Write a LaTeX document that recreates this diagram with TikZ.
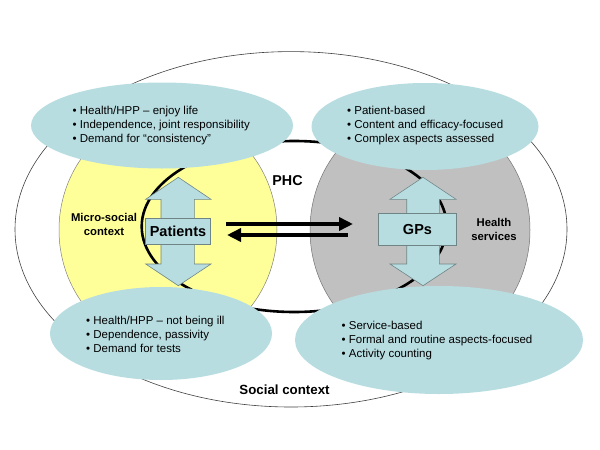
\documentclass[tikz,border=0pt]{standalone}
\usepackage{fontspec}
\setmainfont{Liberation Sans}
\usetikzlibrary{arrows.meta}
\definecolor{tealfill}{HTML}{B8DDE1}
\definecolor{yellowfill}{HTML}{FFFF99}
\definecolor{grayfill}{HTML}{C0C0C0}
\definecolor{arrowedge}{HTML}{6F8585}
\begin{document}
\begin{tikzpicture}[x=1pt,y=-1pt,
  bullets/.style={align=left, font=\fontsize{11.5}{14}\selectfont, inner sep=0pt, anchor=west},
  lbl/.style={font=\bfseries\fontsize{11.3}{13.5}\selectfont, align=center, inner sep=0pt},
  biglbl/.style={font=\bfseries\fontsize{14.5}{16}\selectfont, inner sep=0pt},
  flow/.style={line width=4pt, -{Triangle[length=14pt,width=13pt]}},
  dblarrow/.style={fill=tealfill, draw=arrowedge, line width=0.6pt},
  bubble/.style={fill=tealfill},
  boxstyle/.style={fill=tealfill, draw=arrowedge, line width=0.6pt}
]
\useasboundingbox (0,0) rectangle (600,450);
\fill[white] (0,0) rectangle (600,450);
% outer social context ellipse
\draw[line width=0.6pt, draw=black!75] (291,229.3) ellipse [x radius=276pt, y radius=177.7pt];
% micro-social (yellow) and health services (gray)
\draw[fill=yellowfill, draw=gray, line width=0.5pt] (168,230) ellipse [x radius=109pt, y radius=118pt];
\draw[fill=grayfill, draw=black!55, line width=0.5pt] (420,230) ellipse [x radius=110pt, y radius=120pt];
% PHC ellipse
\draw[line width=2.6pt] (294.2,226.5) ellipse [x radius=152.5pt, y radius=85.5pt];
% double arrows
\draw[dblarrow] (178.3,177.3) -- (211,199.3) -- (194.3,199.3) -- (194.3,264) -- (211,264)
  -- (178.3,285.7) -- (145.7,264) -- (161,264) -- (161,199.3) -- (145.7,199.3) -- cycle;
\draw[dblarrow] (423,177.3) -- (456,199.3) -- (439.3,199.3) -- (439.3,264) -- (456,264)
  -- (423,285.7) -- (390,264) -- (406.7,264) -- (406.7,199.3) -- (390,199.3) -- cycle;
% boxes
\node[boxstyle, minimum width=64.6pt, minimum height=26pt, inner sep=0pt] (patients) at (178,231.3) {};
\node[biglbl] at (patients.center) {Patients};
\node[boxstyle, minimum width=78.4pt, minimum height=31.7pt, inner sep=0pt] (gps) at (417.5,229.2) {};
\node[biglbl] at (gps.center) {GPs};
% horizontal arrows
\coordinate (a1s) at (226,224);
\coordinate (a1e) at (353,224);
\coordinate (a2s) at (347.5,235);
\coordinate (a2e) at (227,235);
\draw[flow] (a1s) -- (a1e);
\draw[flow] (a2s) -- (a2e);
% teal bubbles
\fill[bubble] (162,125.5) ellipse [x radius=131pt, y radius=43pt];
\fill[bubble] (425,126.5) ellipse [x radius=113.5pt, y radius=43.5pt];
\fill[bubble] (161,333.5) ellipse [x radius=111pt, y radius=46.5pt];
\fill[bubble] (439,340) ellipse [x radius=144pt, y radius=54pt];
% bubble texts
\node[bullets] (tl) at (72.5,126) {\textbullet\ Health/HPP -- enjoy life\\\textbullet\ Independence, joint responsibility\\\textbullet\ Demand for “consistency”};
\node[bullets] (tr) at (347,126) {\textbullet\ Patient-based\\\textbullet\ Content and efficacy-focused\\\textbullet\ Complex aspects assessed};
\node[bullets] (bl) at (86,334) {\textbullet\ Health/HPP -- not being ill\\\textbullet\ Dependence, passivity\\\textbullet\ Demand for tests};
\node[bullets] (br) at (341.5,341) {\textbullet\ Service-based\\\textbullet\ Formal and routine aspects-focused\\\textbullet\ Activity counting};
% labels
\node[lbl] (micro) at (104,224.5) {Micro-social\\context};
\node[lbl] (health) at (494,229.7) {Health\\services};
\node[biglbl, font=\bfseries\fontsize{14.3}{16}\selectfont] (phc) at (287.5,180.7) {PHC};
\node[lbl, font=\bfseries\fontsize{13.3}{15}\selectfont] (social) at (284.5,390) {Social context};
\end{tikzpicture}
\end{document}
